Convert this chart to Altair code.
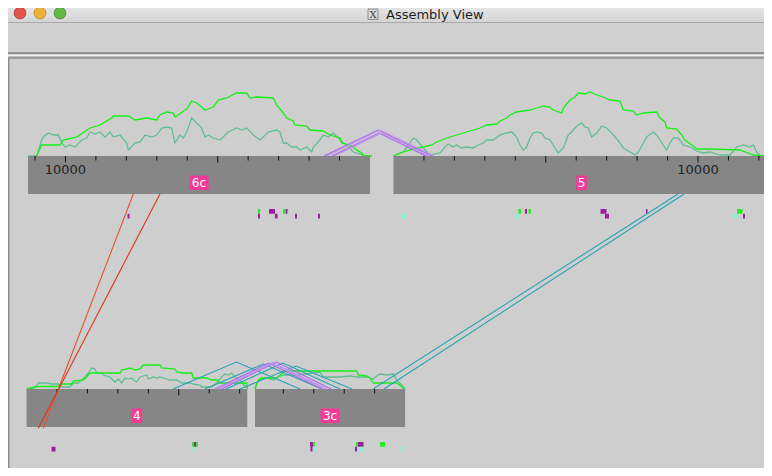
import altair as alt
import pandas as pd

# ---------------- window chrome (view units) ----------------
chrome_x1 = [0, 0, 0, 0, 0, 0, 0, 8]
chrome_x2 = [772, 772, 772, 772, 772, 772, 772, 9.5]
chrome_y1 = [0, 22, 23, 52, 54.5, 56.5, 59, 58]
chrome_y2 = [22, 23, 52, 54.5, 56.5, 59, 476, 476]
chrome_fill = ["#e2e2e2", "#a9a9a9", "#d1d1d1", "#939393", "#f2f2f2", "#9c9c9c", "#cecece", "#8e8e8e"]

light_x = [20, 40, 60]
light_fill = ["#e2544c", "#efb238", "#62b842"]
light_stroke = ["#a63a33", "#b8842a", "#3f8a2a"]
title_text = "Assembly View"

# ---------------- contigs ----------------
contig_names = ["6c", "5", "4", "3c"]
contig_row = [0, 0, 1, 1]
contig_start = [28.0, 393.5, 26.5, 255.0]
contig_length_bp = [11230, 12350, 7250, 4930]
contig_reversed = [True, False, False, True]
row_top = [156, 389]
ROW_H = 38
PX_PER_KB = 30.45

# ---------------- coverage (position, depth) ----------------
cov_6c_bright = [(36.7,0),(41.7,11),(60,11),(63.3,16),(76.7,19),(90,28),(100,31),(111.7,38),(113.3,40),(128.3,40),(135,36),(146.7,38),(156.7,36),(160,41),(166.7,44),(173.3,43),(175,39),(186.7,47),(191.7,55),(196.7,53),(201.7,49),(205,46),(213.3,49),(218.3,56),(226.7,58),(236.7,63),(246.7,63),(250,58),(256.7,59),(273.3,58),(276.7,51),(283.3,43),(286.7,38),(293.3,35),(295,31),(306.7,30),(310,26),(323.3,25),(330,21),(340,18),(341.7,13),(350,11),(356.7,6),(361.7,3),(363.3,0),(371.7,0)]
cov_6c_sea = [(28.3,0),(36.7,0),(41.7,16),(43.3,19),(48.3,23),(53.3,21),(58.3,21),(61.7,13),(65,9),(70,11),(75,9),(81.7,16),(86.7,18),(90,24),(95,22),(100,24),(105,19),(110,24),(113.3,19),(120,21),(126.7,13),(128.3,6),(135,13),(140,14),(145,21),(151.7,19),(156.7,21),(161.7,28),(166.7,29),(171.7,28),(175,13),(180,21),(183.3,18),(186.7,24),(191.7,38),(196.7,33),(201.7,28),(205,19),(208.3,21),(213.3,18),(220,16),(228.3,24),(236.7,28),(241.7,26),(246.7,28),(253.3,21),(260,16),(268.3,24),(276.7,26),(280,24),(283.3,13),(286.7,13),(291.7,9),(296.7,9),(300,6),(306.7,9),(311.7,4),(313.3,9),(318.3,14),(323.3,21),(328.3,19),(333.3,23),(338.3,18),(343.3,13),(350,8),(353.3,4),(360,2),(366.7,0),(371.7,0)]
cov_5_bright = [(393.3,0),(400,3),(410,6),(423.3,9),(431.7,11),(436.7,14),(446.7,18),(456.7,21),(470,25),(480,28),(486.7,31),(496.7,32),(500,35),(506.7,38),(510,41),(516.7,44),(530,46),(536.7,48),(543.3,50),(550,49),(553.3,46),(561.7,43),(563.3,48),(570,56),(575,59),(578.3,63),(585,62),(590,64),(596.7,61),(603.3,59),(610,56),(620,55),(623.3,46),(633.3,45),(636.7,41),(643.3,43),(656.7,44),(660,38),(665,34),(666.7,28),(676.7,27),(681.7,21),(685,16),(691.7,11),(696.7,7),(710,7),(740,6),(753.3,1),(763,0)]
cov_5_sea = [(393.3,0),(403.3,4),(410,13),(413.3,18),(416.7,16),(423.3,8),(430,1),(440,3),(445,9),(448.3,12),(453.3,9),(456.7,11),(461.7,8),(466.7,9),(473.3,8),(478.3,11),(483.3,13),(486.7,16),(493.3,16),(500,21),(506.7,23),(511.7,24),(516.7,19),(520,11),(523.3,6),(526.7,9),(530,18),(533.3,23),(536.7,24),(541.7,23),(545,18),(550,16),(555,8),(558.3,3),(563.3,8),(568.3,21),(571.7,24),(575,28),(578.3,31),(581.7,33),(585,29),(588.3,28),(591.7,19),(596.7,23),(601.7,30),(606.7,28),(613.3,21),(620,13),(623.3,8),(630,4),(635,1),(638.3,4),(646.7,19),(653.3,24),(656.7,21),(660,16),(663.3,11),(666.7,6),(670,13),(673.3,18),(678.3,18),(683.3,11),(690,9),(696.7,5),(703.3,3),(710,4),(720,1),(730,1),(736.7,9),(743.3,11),(750,9),(753.3,11),(756.7,4),(760,0),(771.7,0)]
cov_4_bright = [(26.7,0),(36.7,2.5),(56.7,2.5),(63.3,5),(71.7,5),(73.3,8),(83.3,9),(86.7,12),(90,16),(120,16),(121.7,19),(130,21),(135,19),(140,20),(143.3,24),(160,24),(161.7,21),(175,20),(176.7,17),(183.3,16),(191.7,16),(193.3,11),(206.7,11),(211.7,9),(216.7,9.5),(220,6),(246.7,6),(247.5,0)]
cov_4_sea = [(26.7,0),(35,1),(38.3,6),(46.7,6),(51.7,5),(58.3,5),(60,2),(70,2),(73.3,6),(78.3,6),(85,12),(88.3,16),(91.7,21),(95,20),(96.7,16),(101.7,16),(103.3,14),(110,12),(111.7,10),(115,7),(118.3,10),(121.7,6),(125,11),(128.3,10),(131.7,11),(133.3,9),(136.7,7),(140,12),(146.7,14),(148.3,10),(153.3,12),(156.7,11),(160,12),(163.3,11),(166.7,10),(170,9),(176.7,9),(181.7,6),(190,6),(193.3,5),(200,4),(201.7,2),(211.7,2),(216.7,6),(221.7,12),(225,15),(228.3,14),(231.7,16),(235,12),(238.3,11),(243,5),(246.7,1)]
cov_3c_bright = [(255,0),(258.3,9),(261.7,11),(276.7,11),(283.3,17),(286.7,18),(356.7,18),(358.3,14),(366.7,13),(370,11),(373.3,6),(396.7,6),(405,0)]
cov_3c_sea = [(255,0),(256.7,6),(260,9),(266.7,11),(273.3,9),(278.3,12),(283.3,14),(296.7,14),(313.3,16),(320,17),(323.3,12),(333.3,12),(340,12),(350,13),(356.7,12),(366.7,12),(373.3,10),(376.7,13),(380,15),(386.7,14),(393.3,15),(396.7,9),(400,6),(405,0)]
coverage_curves = [("6c", "sea", cov_6c_sea), ("6c", "bright", cov_6c_bright),
                   ("5", "sea", cov_5_sea), ("5", "bright", cov_5_bright),
                   ("4", "sea", cov_4_sea), ("4", "bright", cov_4_bright),
                   ("3c", "sea", cov_3c_sea), ("3c", "bright", cov_3c_bright)]
cov_colors = {"bright": "#14f014", "sea": "#5fbf92"}

# ---------------- same-row links (arcs): start, end, height, row, kind ----------------
arc_start = [324, 326.5, 332, 334.5, 173, 205, 226, 240, 215, 218, 222, 219.5]
arc_end = [432, 434, 426, 428.5, 300, 322, 340, 352, 322, 327, 331, 325]
arc_height = [26, 26, 23, 23, 27, 25, 26, 23, 26, 26.5, 27, 25.5]
arc_row = [0, 0, 0, 0, 1, 1, 1, 1, 1, 1, 1, 1]
arc_kind = ["purple", "purple2", "purple", "purple2", "teal", "teal", "teal", "teal",
            "purple", "purple2", "purple", "purple2"]

# ---------------- cross-row links: contig/pos/side -> contig/pos/side ----------------
link_a = ["6c", "6c", "5", "5"]
link_a_pos = [133.3, 160.0, 678.0, 684.0]
link_a_side = ["bottom", "bottom", "bottom", "bottom"]
link_b = ["4", "4", "3c", "3c"]
link_b_pos = [43.3, 38.3, 373.0, 384.0]
link_b_side = ["bottom", "bottom", "top", "top"]
link_kind = ["red", "red2", "teal", "teal"]

line_colors = {"purple": "#a96ae8", "purple2": "#c090f4", "teal": "#2aa2b4",
               "red": "#e8542e", "red2": "#e2321e"}

# ---------------- feature marks below contigs ----------------
feat_x1 = [127.5, 258, 258, 269, 275, 283, 286, 295, 318, 402, 515, 518.5, 525, 528.5, 600.5, 605, 646, 737, 733.5, 743, 766,
           51.5, 192, 194, 193, 310, 313, 310.5, 313, 356, 358, 355, 360, 380, 401.5]
feat_x2 = [129.5, 260, 260, 275, 277.5, 286, 287.5, 297, 320, 406, 518.5, 521, 527, 531, 606.5, 609, 647.5, 742.5, 737, 745, 770,
           55.5, 198, 196, 195.5, 313, 315, 312.5, 315.5, 358, 363.5, 357, 363, 385, 404]
feat_row = [0] * 21 + [1] * 14
feat_lane = [1, 0, 1, 0, 1, 0, 0, 1, 1, 1, 1, 0, 0, 0, 0, 1, 0, 0, 1, 1, 0,
             1, 0, 0, 1, 0, 0, 1, 1, 0, 0, 1, 1, 0, 1]
feat_kind = ["P", "G", "P", "P", "P", "G", "P", "P", "P", "A", "A", "G", "P", "G", "P", "P", "P", "G", "A", "P", "G",
             "P", "G", "P", "A", "P", "G", "P", "A", "G", "P", "P", "A", "G", "A"]
feat_colors = {"P": "#9c1fa0", "G": "#22ee22", "A": "#84f2d2"}

# ================= build tables =================
XS = alt.Scale(domain=[8, 764], nice=False, zero=False)
YS = alt.Scale(domain=[8, 468], reverse=True, nice=False, zero=False)


def rect_layer(df, **mark):
    return alt.Chart(df).mark_rect(clip=True, **mark).encode(
        x=alt.X("x1:Q", scale=XS, axis=None), x2="x2:Q",
        y=alt.Y("y1:Q", scale=YS, axis=None), y2="y2:Q",
        color=alt.Color("fill:N", scale=None))


chrome = pd.DataFrame({"x1": chrome_x1, "x2": chrome_x2, "y1": chrome_y1, "y2": chrome_y2, "fill": chrome_fill})
titlebar = chrome.iloc[[0]].copy()
chrome_rest = chrome.iloc[1:].copy()

title_grad = alt.Gradient(gradient="linear",
                          stops=[alt.GradientStop(color="#eeeeee", offset=0),
                                 alt.GradientStop(color="#d4d4d4", offset=1)],
                          x1=0, x2=0, y1=0, y2=1)
titlebar_layer = alt.Chart(titlebar).mark_rect(clip=True, color=title_grad).encode(
    x=alt.X("x1:Q", scale=XS, axis=None), x2="x2:Q",
    y=alt.Y("y1:Q", scale=YS, axis=None), y2="y2:Q")

lights = pd.DataFrame({"x": light_x, "y": [13] * 3, "fill": light_fill, "stroke": light_stroke})
lights_layer = alt.Chart(lights).mark_circle(size=140, opacity=1, strokeWidth=0.8, clip=True).encode(
    x=alt.X("x:Q", scale=XS, axis=None), y=alt.Y("y:Q", scale=YS, axis=None),
    color=alt.Color("fill:N", scale=None), stroke=alt.Stroke("stroke:N", scale=None))

icon = pd.DataFrame({"x1": [368], "x2": [378], "y1": [9], "y2": [19.5], "fill": ["#dadada"]})
icon_layer = rect_layer(icon, stroke="#7a7a7a", strokeWidth=0.8)
icon_text = alt.Chart(pd.DataFrame({"x": [373], "y": [14.5], "t": ["X"]})).mark_text(
    font="DejaVu Serif", fontSize=10, color="#444444", baseline="middle", align="center").encode(
    x=alt.X("x:Q", scale=XS, axis=None), y=alt.Y("y:Q", scale=YS, axis=None), text="t:N")
title_layer = alt.Chart(pd.DataFrame({"x": [386], "y": [14.5], "t": [title_text]})).mark_text(
    font="DejaVu Sans", fontSize=13, color="#1e1e1e", baseline="middle", align="left").encode(
    x=alt.X("x:Q", scale=XS, axis=None), y=alt.Y("y:Q", scale=YS, axis=None), text="t:N")

# contigs
c_end = [s + L / 1000 * PX_PER_KB for s, L in zip(contig_start, contig_length_bp)]
c_top = [row_top[r] for r in contig_row]
contigs = pd.DataFrame({"name": contig_names, "x1": contig_start, "x2": c_end,
                        "y1": c_top, "y2": [t + ROW_H for t in c_top], "fill": ["#868686"] * 4})
contig_layer = rect_layer(contigs)

# ticks
tick_rows = []
for name, s, e, L, rev, top in zip(contig_names, contig_start, c_end, contig_length_bp, contig_reversed, c_top):
    for k in range(1, L // 1000 + 1):
        pos = e - k * PX_PER_KB if rev else s + k * PX_PER_KB
        major = (k % 5 == 0)
        tick_rows.append({"x": pos, "y1": top, "y2": top + (6.5 if major else 4.5),
                          "label": f"{k * 1000}" if k % 10 == 0 else "", "ty": top + 14})
ticks = pd.DataFrame(tick_rows)
tick_layer = alt.Chart(ticks).mark_rule(color="#111111", strokeWidth=1, clip=True).encode(
    x=alt.X("x:Q", scale=XS, axis=None), y=alt.Y("y1:Q", scale=YS, axis=None), y2="y2:Q")
tick_text_layer = alt.Chart(ticks[ticks["label"] != ""]).mark_text(
    font="DejaVu Sans", fontSize=13, color="#222222", baseline="middle", align="center", clip=True).encode(
    x=alt.X("x:Q", scale=XS, axis=None), y=alt.Y("ty:Q", scale=YS, axis=None), text="label:N")

# contig name labels
lab = pd.DataFrame({"name": contig_names,
                    "x": [(a + b) / 2 for a, b in zip(contig_start, c_end)],
                    "y": [t + 27 for t in c_top]})
lab["x1"] = lab["x"] - lab["name"].str.len() * 4.3 - 1
lab["x2"] = lab["x"] + lab["name"].str.len() * 4.3 + 1
lab["y1"] = lab["y"] - 7.5
lab["y2"] = lab["y"] + 7
lab["fill"] = "#f03c97"
lab_box = rect_layer(lab)
lab_text = alt.Chart(lab).mark_text(font="DejaVu Sans", fontSize=12, color="white",
                                    baseline="middle", align="center").encode(
    x=alt.X("x:Q", scale=XS, axis=None), y=alt.Y("y:Q", scale=YS, axis=None), text="name:N")

# coverage
cov_rows = []
for cname, kind, pts in coverage_curves:
    top = row_top[contig_row[contig_names.index(cname)]]
    for i, (px, d) in enumerate(pts):
        cov_rows.append({"id": f"{cname}-{kind}", "ord": i, "x": px, "y": top - d,
                         "col": cov_colors[kind]})
cov = pd.DataFrame(cov_rows)
cov_layer = alt.Chart(cov).mark_line(strokeWidth=1.3, clip=True).encode(
    x=alt.X("x:Q", scale=XS, axis=None), y=alt.Y("y:Q", scale=YS, axis=None),
    color=alt.Color("col:N", scale=None), detail="id:N", order="ord:Q")

# arcs
arc_rows = []
for i, (a, b, h, r, k) in enumerate(zip(arc_start, arc_end, arc_height, arc_row, arc_kind)):
    base = row_top[r]
    for j, (px, py) in enumerate([(a, base), ((a + b) / 2, base - h), (b, base)]):
        arc_rows.append({"id": f"arc{i}", "ord": j, "x": px, "y": py, "col": line_colors[k]})
arcs = pd.DataFrame(arc_rows)
arc_layer = alt.Chart(arcs).mark_line(strokeWidth=1.1, clip=True).encode(
    x=alt.X("x:Q", scale=XS, axis=None), y=alt.Y("y:Q", scale=YS, axis=None),
    color=alt.Color("col:N", scale=None), detail="id:N", order="ord:Q")


# cross links
def side_y(cname, side):
    t = row_top[contig_row[contig_names.index(cname)]]
    return t + ROW_H if side == "bottom" else t


link_rows = []
for i in range(len(link_a)):
    link_rows.append({"id": f"l{i}", "ord": 0, "x": link_a_pos[i], "y": side_y(link_a[i], link_a_side[i]),
                      "col": line_colors[link_kind[i]]})
    link_rows.append({"id": f"l{i}", "ord": 1, "x": link_b_pos[i],
                      "y": side_y(link_b[i], link_b_side[i]) + (1.3 if link_b_side[i] == "bottom" else 0),
                      "col": line_colors[link_kind[i]]})
links = pd.DataFrame(link_rows)
link_layer = alt.Chart(links).mark_line(strokeWidth=1.1, clip=True).encode(
    x=alt.X("x:Q", scale=XS, axis=None), y=alt.Y("y:Q", scale=YS, axis=None),
    color=alt.Color("col:N", scale=None), detail="id:N", order="ord:Q")

# features
fy1 = [row_top[r] + ROW_H + 15 + lane * 4.75 for r, lane in zip(feat_row, feat_lane)]
feats = pd.DataFrame({"x1": feat_x1, "x2": feat_x2, "y1": fy1, "y2": [v + 4.75 for v in fy1],
                      "fill": [feat_colors[k] for k in feat_kind]})
feat_layer = rect_layer(feats)

chart = alt.layer(
    rect_layer(chrome_rest), titlebar_layer, lights_layer, icon_layer, icon_text, title_layer,
    cov_layer, contig_layer, arc_layer, tick_layer, tick_text_layer, lab_box, lab_text,
    feat_layer, link_layer
).properties(width=756, height=460, padding=0, autosize="none", background="#cecece"
).configure_view(strokeWidth=0)

chart.save("out.html", embed_options={"renderer": "svg", "actions": False})
